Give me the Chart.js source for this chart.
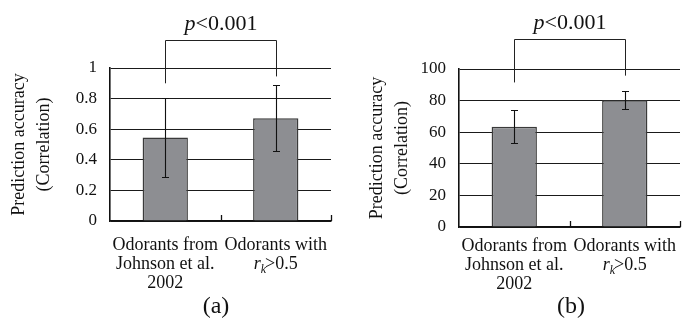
<!DOCTYPE html>
<html>
<head>
<meta charset="utf-8">
<script src="https://cdn.jsdelivr.net/npm/chart.js@4/dist/chart.umd.min.js"></script>
<style>
  html, body { margin: 0; padding: 0; background: #fff; width: 683px; height: 322px; overflow: hidden; position: relative; }
  canvas { position: absolute; top: 0; }
  #cA { left: 0; }
  #cB { left: 340px; }
</style>
</head>
<body>
<canvas id="cA" width="342" height="322"></canvas>
<canvas id="cB" width="346" height="322"></canvas>
<script>
// ---- data ----
const categoriesA = [['Odorants from', 'Johnson et al.', '2002'], ['Odorants with', '']];
const categoriesB = [['Odorants from', 'Johnson et al.', '2002'], ['Odorants with', '']];
const accuracyA = [0.545, 0.672];
const errorA = [0.26, 0.215];
const accuracyB = [63.5, 80.2];
const errorB = [10.5, 5.6];
const yTicksA = [0, 0.2, 0.4, 0.6, 0.8, 1];
const yTicksB = [0, 20, 40, 60, 80, 100];
const pText = ['p', '<0.001'];
const panelLabels = ['(a)', '(b)'];
const bracketA = { top: 1.185, legs: [0.90, 0.945] };
const bracketB = { top: 119, legs: [91.5, 95.8] };

const SERIF = '"Liberation Serif", "Times New Roman", Times, serif';

const annotPlugin = {
  id: 'annot',
  afterDatasetsDraw(chart, args, o) {
    const ctx = chart.ctx;
    const xs = chart.scales.x, ys = chart.scales.y;
    const area = chart.chartArea;
    const meta = chart.getDatasetMeta(0);
    ctx.save();
    // error bars
    ctx.strokeStyle = '#111';
    ctx.lineWidth = 1.1;
    meta.data.forEach((bar, i) => {
      const v = o.values[i], e = o.errors[i];
      const yt = Math.round(ys.getPixelForValue(v + e)) + 0.5;
      const yb = Math.round(ys.getPixelForValue(v - e)) + 0.5;
      const bx = Math.round(bar.x) + 0.5;
      ctx.beginPath();
      ctx.moveTo(bx, yt); ctx.lineTo(bx, yb);
      ctx.moveTo(bx - 3.5, yt); ctx.lineTo(bx + 3.5, yt);
      ctx.moveTo(bx - 3.5, yb); ctx.lineTo(bx + 3.5, yb);
      ctx.stroke();
    });
    // inside category tick marks
    ctx.strokeStyle = '#111';
    ctx.lineWidth = 1.3;
    const n = xs.getLabels().length;
    const step = xs.getPixelForValue(1) - xs.getPixelForValue(0);
    for (let i = 0; i < n; i++) {
      const tx = Math.round(xs.getPixelForValue(i) + step / 2) + 0.5;
      ctx.beginPath();
      ctx.moveTo(tx, area.bottom);
      ctx.lineTo(tx, area.bottom - 6);
      ctx.stroke();
    }
    // significance bracket
    const b = o.bracket;
    const x0 = Math.round(meta.data[0].x) + 0.5, x1 = Math.round(meta.data[1].x) + 0.5;
    const yTop = Math.round(ys.getPixelForValue(b.top)) + 0.5;
    ctx.lineWidth = 1;
    ctx.strokeStyle = '#222';
    ctx.beginPath();
    ctx.moveTo(x0, ys.getPixelForValue(b.legs[0]));
    ctx.lineTo(x0, yTop);
    ctx.lineTo(x1, yTop);
    ctx.lineTo(x1, ys.getPixelForValue(b.legs[1]));
    ctx.stroke();
    // p<0.001
    ctx.fillStyle = '#111';
    ctx.textBaseline = 'alphabetic';
    ctx.textAlign = 'left';
    const fI = 'italic 22px ' + SERIF, fR = '22px ' + SERIF;
    ctx.font = fI; const w1 = ctx.measureText(pText[0]).width;
    ctx.font = fR; const w2 = ctx.measureText(pText[1]).width;
    let px = (x0 + x1) / 2 - (w1 + w2) / 2;
    const py = yTop - 11;
    ctx.font = fI; ctx.fillText(pText[0], px, py);
    ctx.font = fR; ctx.fillText(pText[1], px + w1, py);
    // r_k>0.5 second line of second category
    const lineY = area.bottom + o.tickPad + o.lineH * 1.5;
    ctx.textBaseline = 'middle';
    const fr = 'italic 18px ' + SERIF, fk = 'italic 12px ' + SERIF, fn = '18px ' + SERIF;
    ctx.font = fr; const wr = ctx.measureText('r').width;
    ctx.font = fk; const wk = ctx.measureText('k').width;
    ctx.font = fn; const wn = ctx.measureText('>0.5').width;
    let rx = meta.data[1].x - (wr + wk + wn - 1) / 2;
    ctx.font = fr; ctx.fillText('r', rx, lineY);
    ctx.font = fk; ctx.fillText('k', rx + wr, lineY + 5);
    ctx.font = fn; ctx.fillText('>0.5', rx + wr + wk - 1, lineY);
    // panel label
    ctx.textAlign = 'center';
    ctx.textBaseline = 'alphabetic';
    ctx.font = '24px ' + SERIF;
    ctx.fillText(o.panel, o.panelX, 313);
    ctx.restore();
  }
};

function makeChart(id, cats, vals, errs, ticks, bracket, panel, panelX, cfg) {
  const tickFont = { family: SERIF, size: 17 };
  const lineH = 18.9;
  return new Chart(document.getElementById(id), {
    type: 'bar',
    data: {
      labels: cats,
      datasets: [{
        data: vals,
        backgroundColor: '#8d8e92',
        borderColor: '#3a3a3a',
        borderWidth: 1.5,
        borderSkipped: 'start',
        categoryPercentage: 1.0,
        barPercentage: 0.41
      }]
    },
    options: {
      responsive: false,
      devicePixelRatio: 1,
      animation: false,
      layout: { padding: { top: cfg.top, left: 0, right: 0, bottom: 0 } },
      plugins: {
        legend: { display: false },
        tooltip: { enabled: false },
        annot: { values: vals, errors: errs, bracket: bracket, panel: panel, panelX: panelX, tickPad: cfg.xPad, lineH: lineH }
      },
      scales: {
        x: {
          grid: { display: false, drawTicks: false },
          border: { display: true, color: '#111', width: 1.6 },
          ticks: {
            color: '#111',
            font: { family: SERIF, size: 18, lineHeight: lineH / 18 },
            padding: cfg.xPad,
            maxRotation: 0, minRotation: 0, autoSkip: false
          },
          afterFit(s) { s.height = cfg.xH; }
        },
        y: {
          min: ticks[0],
          max: ticks[ticks.length - 1],
          afterBuildTicks(s) { s.ticks = ticks.map(v => ({ value: v })); },
          grid: { color: '#1a1a1a', lineWidth: 1, drawTicks: false },
          border: { display: true, color: '#111', width: 1.6 },
          ticks: {
            color: '#111',
            font: tickFont,
            padding: 13,
            callback: v => String(v)
          },
          title: {
            display: true,
            text: ['Prediction accuracy', '(Correlation)'],
            color: '#111',
            font: { family: SERIF, size: 18, lineHeight: 25 / 18 },
            padding: { top: cfg.titlePad, bottom: 0 }
          },
          afterFit(s) { s.width = cfg.yW; }
        }
      }
    },
    plugins: [annotPlugin]
  });
}

makeChart('cA', categoriesA, accuracyA, errorA, yTicksA, bracketA, panelLabels[0], 216,
  { top: 68, xH: 101, xPad: 15, yW: 110, titlePad: 7 });
makeChart('cB', categoriesB, accuracyB, errorB, yTicksB, bracketB, panelLabels[1], 231,
  { top: 69, xH: 95, xPad: 10, yW: 119, titlePad: 25 });
</script>
</body>
</html>
